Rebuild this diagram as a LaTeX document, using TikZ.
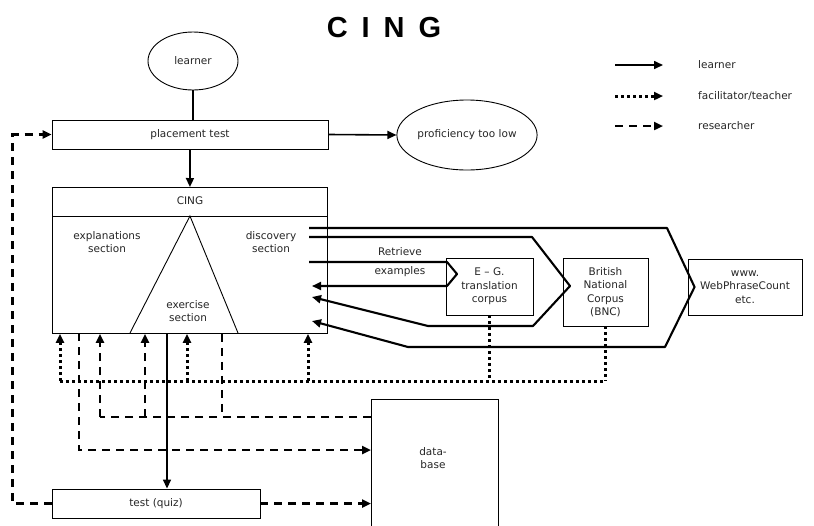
\documentclass[tikz,border=0pt]{standalone}
\usepackage{fontspec}
\setmainfont{DejaVu Sans}
\newfontfamily\titlefont{Liberation Sans}
\usetikzlibrary{arrows.meta,shapes.geometric}
\begin{document}
\begin{tikzpicture}[x=1pt,y=-1pt,
  every node/.style={font=\fontsize{10.5}{13.5}\selectfont, text=black!85, inner sep=0pt},
  box/.style={draw, line width=0.9pt, rectangle},
  oval/.style={draw, line width=0.9pt, ellipse},
  tip/.style={-{Triangle[length=9pt,width=8pt]}},
  learn/.style={line width=1.6pt},
  fac/.style={line width=3pt, dash pattern=on 3pt off 3pt},
  res/.style={line width=2.4pt, dash pattern=on 8pt off 6pt},
  corp/.style={line width=2.1pt, line join=round},
  thinl/.style={line width=0.9pt},
  lbl/.style={align=center}
]
\useasboundingbox (0,0) rectangle (814,525);
\clip (0,0) rectangle (814,525);
\fill[white] (0,0) rectangle (814,525);

% title
\node[font=\titlefont\bfseries\fontsize{29}{30}\selectfont, text=black] (title) at (384,28) {C\hspace{14pt}I\hspace{14pt}N\hspace{14pt}G};

% main nodes
\node[oval, minimum width=90pt, minimum height=58pt] (learner) at (193,61) {learner};
\node[box, minimum width=276pt, minimum height=29pt] (pt) at (190,134.5) {placement test};
\node[oval, minimum width=138pt, minimum height=70pt] (prof) at (467,135) {proficiency too low};
\node[box, minimum width=275pt, minimum height=146pt, anchor=north west] (cing) at (52,187) {};
\node[box, minimum width=87pt, minimum height=57pt, lbl] (eg) at (489.5,286.5) {E -- G.\\translation\\corpus};
\node[box, minimum width=85pt, minimum height=68pt, lbl] (bnc) at (605.5,292) {British\\National\\Corpus\\(BNC)};
\node[box, minimum width=114pt, minimum height=56pt, lbl] (www) at (745,287) {www.\\WebPhraseCount\\etc.};
\node[box, minimum width=127pt, minimum height=140pt, anchor=north west] (db) at (371,399) {};
\node[lbl] (dbl) at (433,458) {data-\\base};
\node[box, minimum width=208pt, minimum height=29pt] (quiz) at (156,503.5) {test (quiz)};

% CING inner structure
\draw[thinl] ([yshift=-29pt]cing.north west) -- ([yshift=-29pt]cing.north east);
\draw[thinl] (130,333) -- ([yshift=-29pt]cing.north) -- (238,333);
\node (cingl) at (190,201) {CING};
\node[lbl] (expl) at (107,242) {explanations\\section};
\node[lbl] (disc) at (271,242) {discovery\\section};
\node[lbl] (exer) at (188,311) {exercise\\section};
\node[lbl, font=\fontsize{10.5}{19}\selectfont] (retr) at (400,262) {Retrieve\\examples};

% learner connectors
\draw[line width=1.2pt] (learner.south) -- (pt.north -| learner.south);
\draw[learn,tip] (pt.south) -- (cing.north);
\draw[learn,tip] (pt.east) -- (prof.west);
\coordinate (q167) at (167,0);
\draw[learn,tip] (cing.south -| q167) -- (quiz.north -| q167);

% corpus loops
\coordinate (s1) at (309,228);
\coordinate (s2) at (309,237);
\coordinate (s3) at (309,262);
\coordinate (e1) at (312,321);
\coordinate (e2) at (312,297);
\coordinate (e3) at (312,286);
\draw[corp,tip] (s1) -- (667,228) -- ([xshift=7pt]www.west) -- (665,347) -- (408,347) -- (e1);
\draw[corp,tip] (s2) -- (532,237) -- (570,286) -- (533,326) -- (428,326) -- (e2);
\draw[corp,tip] (s3) -- (447,262) -- (457,274) -- (447,286) -- (e3);

% facilitator
\coordinate (f0) at (60,381);
\coordinate (f2) at (187,381);
\coordinate (f3) at (308,381);
\draw[fac] (eg.south) -- (eg.south |- f0);
\draw[fac] (bnc.south) -- (bnc.south |- f0);
\draw[fac] (f0) -- (bnc.south |- f0);
\draw[fac,tip] (f0) -- (f0 |- cing.south);
\draw[fac,tip] (f2) -- (f2 |- cing.south);
\draw[fac,tip] (f3) -- (f3 |- cing.south);

% researcher
\coordinate (r79) at (79,333);
\coordinate (dbA) at (371,417);
\coordinate (dbB) at (371,450);
\coordinate (r100) at (100,417);
\coordinate (r145) at (145,417);
\coordinate (r222) at (222,417);
\draw[res,tip] (quiz.west) -- ++(-39,0) |- (pt.west);
\draw[res,tip] (quiz.east) -- (quiz.east -| db.west);
\draw[res,tip] (r79) |- (dbB);
\draw[res] (dbA) -- (r100);
\draw[res,tip] (r100) -- (r100 |- cing.south);
\draw[res,tip] (r145) -- (r145 |- cing.south);
\draw[res] (r222 |- cing.south) -- (r222);

% legend
\coordinate (la1) at (615,65);  \coordinate (la2) at (663,65);
\coordinate (lb1) at (615,96);  \coordinate (lb2) at (663,96);
\coordinate (lc1) at (615,126); \coordinate (lc2) at (663,126);
\draw[learn,tip] (la1) -- (la2);
\draw[fac,tip] (lb1) -- (lb2);
\draw[res,tip] (lc1) -- (lc2);
\node[anchor=west] (ll1) at (698,65) {learner};
\node[anchor=west] (ll2) at (698,96) {facilitator/teacher};
\node[anchor=west] (ll3) at (698,126) {researcher};
\end{tikzpicture}
\end{document}
